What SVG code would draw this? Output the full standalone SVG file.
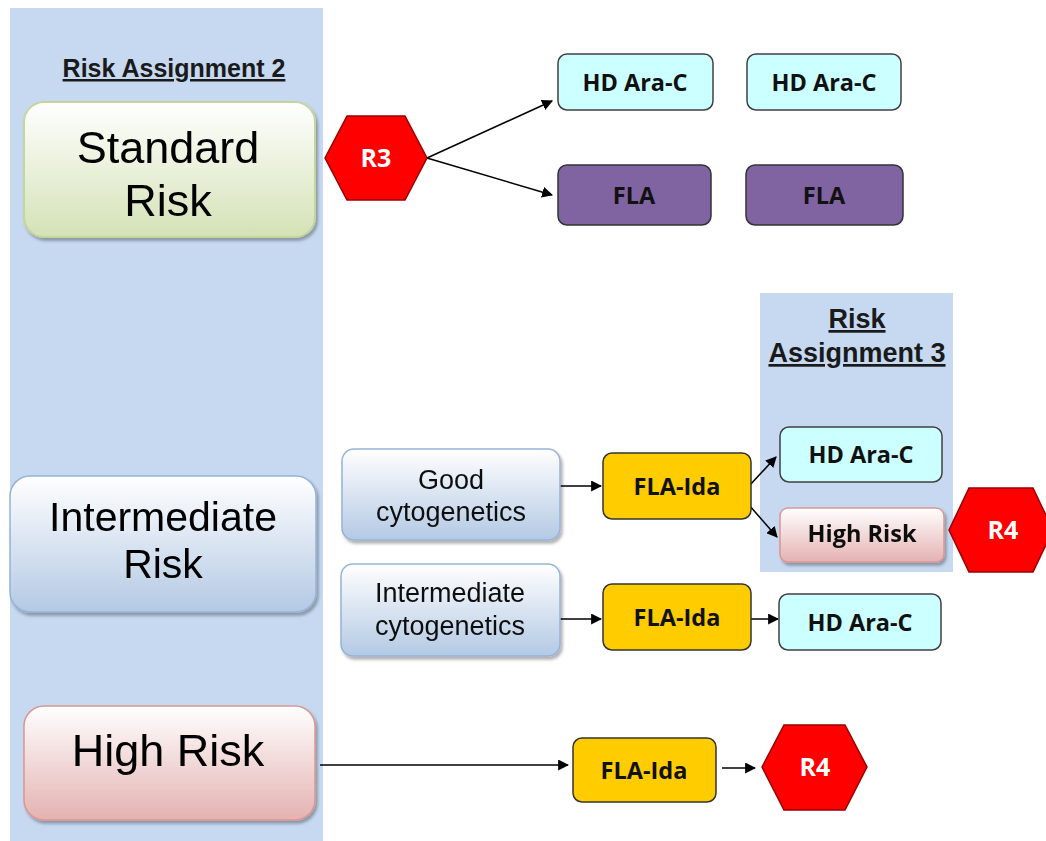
<svg xmlns="http://www.w3.org/2000/svg" width="1046" height="841" viewBox="0 0 1046 841">
  <defs>
    <linearGradient id="gGreen" x1="0" y1="0" x2="0" y2="1">
      <stop offset="0" stop-color="#ffffff"/>
      <stop offset="1" stop-color="#d4e2b6"/>
    </linearGradient>
    <linearGradient id="gBlue" x1="0" y1="0" x2="0" y2="1">
      <stop offset="0" stop-color="#ffffff"/>
      <stop offset="1" stop-color="#b3c9e4"/>
    </linearGradient>
    <linearGradient id="gPink" x1="0" y1="0" x2="0" y2="1">
      <stop offset="0" stop-color="#ffffff"/>
      <stop offset="1" stop-color="#e4b2b1"/>
    </linearGradient>
    <filter id="shadow" x="-10%" y="-10%" width="125%" height="130%">
      <feDropShadow dx="2" dy="3" stdDeviation="1.5" flood-color="#000" flood-opacity="0.3"/>
    </filter>
    <marker id="arrow" viewBox="0 0 10 10" refX="9" refY="5" markerWidth="11" markerHeight="11" markerUnits="userSpaceOnUse" orient="auto">
      <path d="M0,0 L10,5 L0,10 z" fill="#000"/>
    </marker>
    <style>
      .panel { fill: #c6d9f0; }
      .heading { font-family: "Liberation Sans", Arial, sans-serif; font-weight: bold; fill: #1a1a1a; text-decoration: underline; text-anchor: middle; }
      .big { font-family: "Liberation Sans", Arial, sans-serif; fill: #000; text-anchor: middle; }
      .mid { font-family: "Liberation Sans", Arial, sans-serif; font-size: 27px; fill: #111; text-anchor: middle; }
      .lbl { font-family: "Open Sans", "Liberation Sans", sans-serif; font-weight: bold; font-size: 23.5px; fill: #111; text-anchor: middle; }
      .hexlbl { font-family: "Open Sans", "Liberation Sans", sans-serif; font-weight: bold; font-size: 25px; fill: #fff; text-anchor: middle; }
      .green { fill: url(#gGreen); stroke: #c3d69b; stroke-width: 2; }
      .blue { fill: url(#gBlue); stroke: #95b3d7; stroke-width: 1.5; }
      .pink { fill: url(#gPink); stroke: #d99694; stroke-width: 1.5; }
      .cyan { fill: #ccffff; stroke: #404040; stroke-width: 1.5; }
      .purple { fill: #8064a2; stroke: #333; stroke-width: 1.5; }
      .gold { fill: #ffcc00; stroke: #333; stroke-width: 1.5; }
      .hex { fill: #ff0000; stroke: #990000; stroke-width: 1.5; }
      .conn { stroke: #000; stroke-width: 1.5; fill: none; marker-end: url(#arrow); }
    </style>
  </defs>

  <rect width="1046" height="841" fill="#ffffff"/>

  <!-- Risk Assignment 2 column -->
  <g id="panel-ra2">
    <rect class="panel" x="10" y="8" width="313" height="833"/>
    <text class="heading" x="174" y="77" font-size="25">Risk Assignment 2</text>
  </g>

  <!-- Risk Assignment 3 column -->
  <g id="panel-ra3">
    <rect class="panel" x="760" y="293" width="193" height="279"/>
    <text class="heading" x="857" y="328" font-size="27">Risk</text>
    <text class="heading" x="857" y="362" font-size="27">Assignment 3</text>
  </g>

  <!-- connectors -->
  <g id="connectors">
    <line class="conn" x1="427" y1="158" x2="552" y2="101"/>
    <line class="conn" x1="427" y1="158" x2="552" y2="195"/>
    <line class="conn" x1="560" y1="486" x2="601" y2="486"/>
    <line class="conn" x1="749" y1="486" x2="776" y2="457"/>
    <line class="conn" x1="749" y1="505" x2="777" y2="537"/>
    <line class="conn" x1="560" y1="619" x2="601" y2="619"/>
    <line class="conn" x1="750" y1="619" x2="778" y2="619"/>
    <line class="conn" x1="320" y1="765" x2="568" y2="765"/>
    <line class="conn" x1="722" y1="768" x2="755" y2="768"/>
  </g>

  <g id="standard-risk" filter="url(#shadow)">
    <rect class="green" x="24" y="102" width="291" height="135" rx="20"/>
    <text class="big" x="168" y="163" font-size="45">Standard</text>
    <text class="big" x="168" y="216" font-size="45">Risk</text>
  </g>

  <g id="r3">
    <polygon class="hex" points="325,158 347,116 405,116 427,158 405,200 347,200"/>
    <text class="hexlbl" x="376" y="167">R3</text>
  </g>

  <g id="hd-ara-c-1">
    <rect class="cyan" x="558" y="54" width="155" height="56" rx="9"/>
    <text class="lbl" x="635" y="91">HD Ara-C</text>
  </g>
  <g id="hd-ara-c-2">
    <rect class="cyan" x="747" y="54" width="154" height="56" rx="9"/>
    <text class="lbl" x="824" y="91">HD Ara-C</text>
  </g>
  <g id="fla-1">
    <rect class="purple" x="558" y="165" width="153" height="60" rx="9"/>
    <text class="lbl" x="634" y="204">FLA</text>
  </g>
  <g id="fla-2">
    <rect class="purple" x="746" y="165" width="157" height="60" rx="9"/>
    <text class="lbl" x="824" y="204">FLA</text>
  </g>

  <g id="intermediate-risk" filter="url(#shadow)">
    <rect class="blue" x="10" y="476" width="306" height="136" rx="20"/>
    <text class="big" x="163" y="531" font-size="41">Intermediate</text>
    <text class="big" x="163" y="578" font-size="41">Risk</text>
  </g>

  <g id="good-cyto" filter="url(#shadow)">
    <rect class="blue" x="342" y="449" width="218" height="91" rx="12"/>
    <text class="mid" x="451" y="489">Good</text>
    <text class="mid" x="451" y="521">cytogenetics</text>
  </g>

  <g id="fla-ida-1">
    <rect class="gold" x="603" y="453" width="148" height="66" rx="9"/>
    <text class="lbl" x="677" y="495">FLA-Ida</text>
  </g>

  <g id="hd-ara-c-3">
    <rect class="cyan" x="780" y="427" width="162" height="55" rx="9"/>
    <text class="lbl" x="861" y="463">HD Ara-C</text>
  </g>

  <g id="high-risk-ra3" filter="url(#shadow)">
    <rect class="pink" x="780" y="508" width="164" height="54" rx="8"/>
    <text class="lbl" x="862" y="542" font-size="21">High Risk</text>
  </g>

  <g id="r4-top">
    <polygon class="hex" points="949,530 969,488 1033,488 1053,530 1033,572 969,572"/>
    <text class="hexlbl" x="1003" y="539">R4</text>
  </g>

  <g id="intermediate-cyto" filter="url(#shadow)">
    <rect class="blue" x="341" y="564" width="219" height="92" rx="12"/>
    <text class="mid" x="450" y="602">Intermediate</text>
    <text class="mid" x="450" y="635">cytogenetics</text>
  </g>

  <g id="fla-ida-2">
    <rect class="gold" x="603" y="584" width="148" height="66" rx="9"/>
    <text class="lbl" x="677" y="626">FLA-Ida</text>
  </g>

  <g id="hd-ara-c-4">
    <rect class="cyan" x="779" y="594" width="162" height="56" rx="9"/>
    <text class="lbl" x="860" y="631">HD Ara-C</text>
  </g>

  <g id="high-risk" filter="url(#shadow)">
    <rect class="pink" x="24" y="706" width="291" height="114" rx="20"/>
    <text class="big" x="168" y="766" font-size="45">High Risk</text>
  </g>

  <g id="fla-ida-3">
    <rect class="gold" x="573" y="738" width="143" height="64" rx="9"/>
    <text class="lbl" x="644" y="779">FLA-Ida</text>
  </g>

  <g id="r4-bottom">
    <polygon class="hex" points="762,767 784,725 845,725 867,767 845,810 784,810"/>
    <text class="hexlbl" x="815" y="776">R4</text>
  </g>
</svg>
